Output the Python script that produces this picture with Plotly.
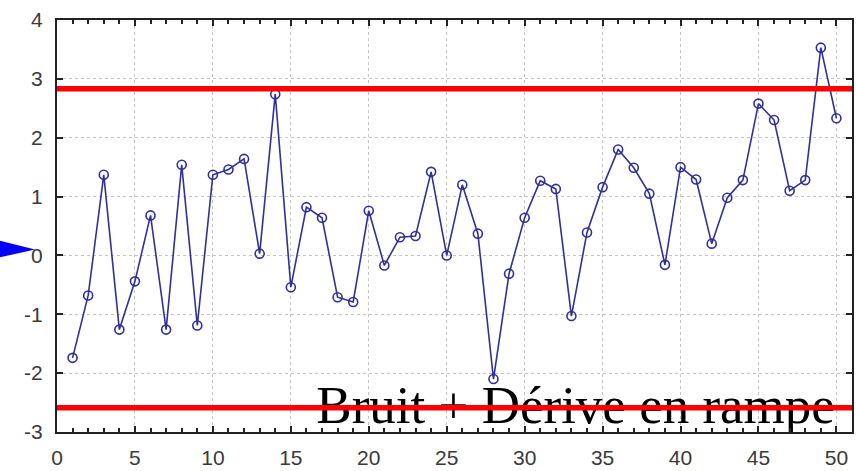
import plotly.graph_objects as go

# ---- data ----
x_vals = list(range(1, 51))
y_vals = [-1.74, -0.68, 1.37, -1.26, -0.44, 0.68, -1.26, 1.54, -1.19, 1.37,
          1.46, 1.64, 0.03, 2.74, -0.54, 0.82, 0.64, -0.71, -0.79, 0.76,
          -0.17, 0.31, 0.33, 1.42, 0.00, 1.20, 0.37, -2.10, -0.31, 0.64,
          1.27, 1.13, -1.03, 0.39, 1.16, 1.80, 1.49, 1.05, -0.16, 1.50,
          1.29, 0.20, 0.98, 1.28, 2.58, 2.30, 1.10, 1.28, 3.53, 2.33]
thresholds = [2.83, -2.59]
x_range = [0, 51]
y_range = [-3, 4]
x_tickvals = [0, 5, 10, 15, 20, 25, 30, 35, 40, 45, 50]
x_ticktext = ["0", "5", "10", "15", "20", "25", "30", "35", "40", "45", "50"]
y_tickvals = [-3, -2, -1, 0, 1, 2, 3, 4]
y_ticktext = ["-3", "-2", "-1", "0", "1", "2", "3", "4"]
label_text = "Bruit + Dérive en rampe"
label_pos = [49.9, -2.615]

fig = go.Figure()

# series
fig.add_trace(go.Scatter(
    x=x_vals, y=y_vals, mode="lines+markers",
    line=dict(color="#30309a", width=1.6),
    marker=dict(symbol="circle-open", size=9, color="#30309a",
                line=dict(width=1.6, color="#30309a")),
    showlegend=False, hoverinfo="skip", cliponaxis=False,
))

# big text (drawn before red lines so red lines pass over it)
fig.add_trace(go.Scatter(
    x=[label_pos[0]], y=[label_pos[1]], mode="text",
    text=[label_text], textposition="middle left",
    textfont=dict(family="Liberation Serif, Times New Roman, serif", size=53, color="black"),
    showlegend=False, hoverinfo="skip", cliponaxis=False,
))

# red threshold lines
for t in thresholds:
    fig.add_trace(go.Scatter(
        x=x_range, y=[t, t], mode="lines",
        line=dict(color="#ff0000", width=5.5),
        showlegend=False, hoverinfo="skip", cliponaxis=False,
    ))

# blue arrow head at the left
fig.add_shape(
    type="path", xref="paper", yref="paper",
    path="M -0.09 0.473 L -0.0276 0.4431 L -0.09 0.416 Z",
    fillcolor="#0000ff", line=dict(width=0), layer="above",
)

tickfont = dict(family="Liberation Sans, Arial, sans-serif", size=21, color="#3a3a3a")

fig.update_xaxes(
    range=x_range, tickvals=x_tickvals, ticktext=x_ticktext,
    showgrid=True, gridcolor="#c4c4c4", griddash="dot", gridwidth=1,
    zeroline=False, showline=True, linecolor="#222", linewidth=2, mirror="ticks",
    ticks="inside", ticklen=6, tickcolor="#222", tickwidth=1.5,
    minor=dict(dtick=1, tick0=0, ticks="inside", ticklen=4, tickcolor="#222", tickwidth=1.5, showgrid=False),
    tickfont=tickfont, ticklabelstandoff=6,
)
fig.update_yaxes(
    range=y_range, tickvals=y_tickvals, ticktext=y_ticktext,
    showgrid=True, gridcolor="#c4c4c4", griddash="dot", gridwidth=1,
    zeroline=False, showline=True, linecolor="#222", linewidth=2, mirror="ticks",
    ticks="inside", ticklen=6, tickcolor="#222", tickwidth=1.5,
    tickfont=tickfont, ticklabelstandoff=8,
)

fig.update_layout(
    width=856, height=471,
    margin=dict(l=57, r=2, t=20, b=38),
    paper_bgcolor="white", plot_bgcolor="white",
)

fig.write_html("out.html", config={"displayModeBar": False},
               post_script="document.body.style.margin='0';")
